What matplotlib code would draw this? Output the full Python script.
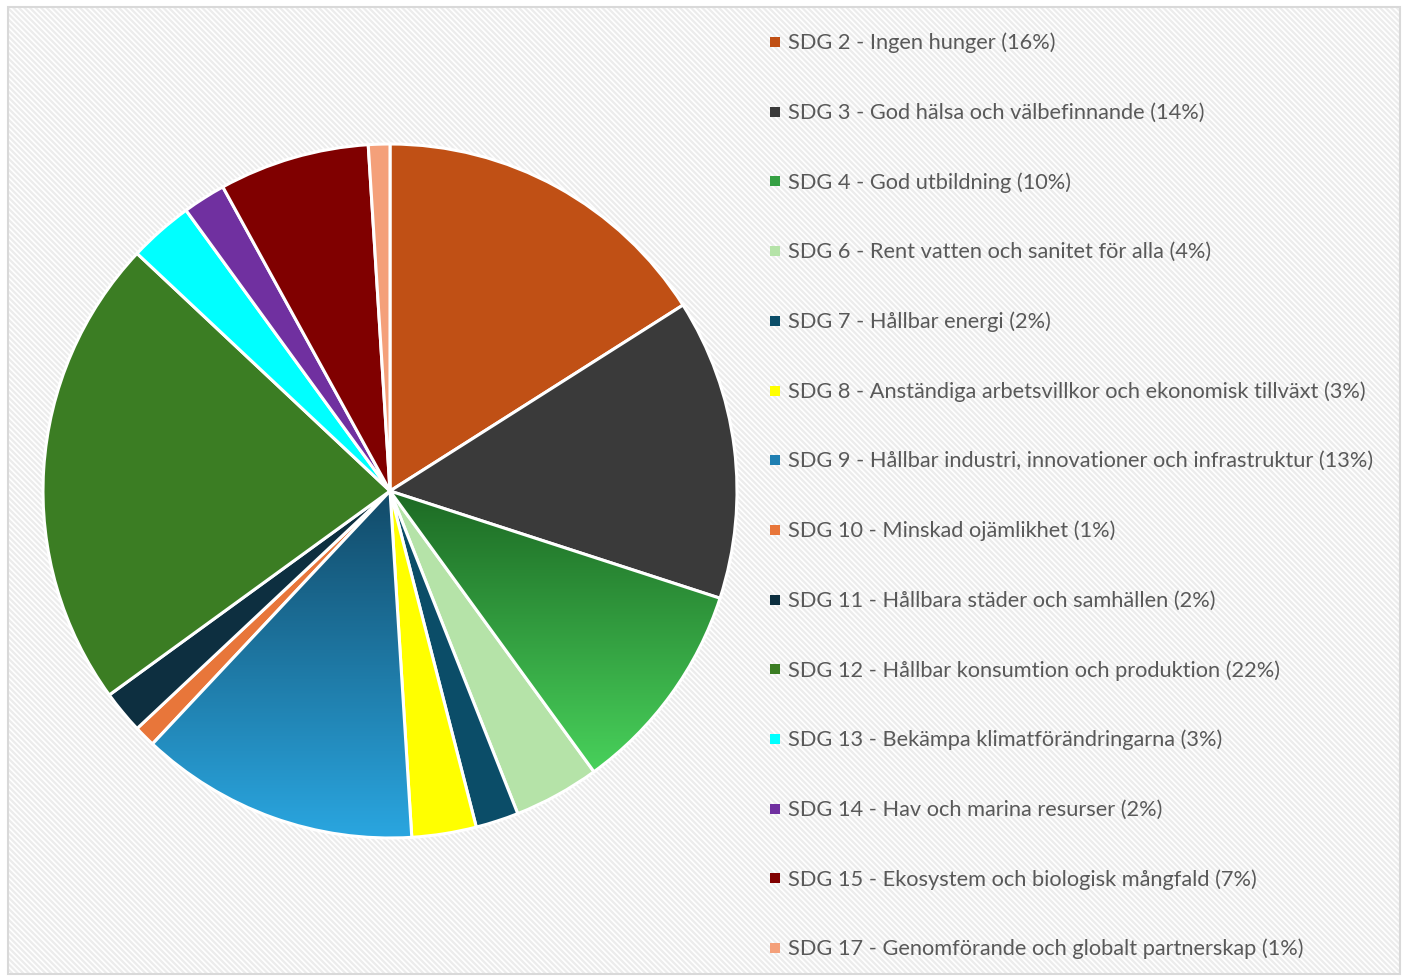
import numpy as np
import matplotlib.pyplot as plt
from matplotlib.patches import Rectangle
from matplotlib.colors import LinearSegmentedColormap

labels = [
    "SDG 2 - Ingen hunger",
    "SDG 3 - God hälsa och välbefinnande",
    "SDG 4 - God utbildning",
    "SDG 6 - Rent vatten och sanitet för alla",
    "SDG 7 - Hållbar energi",
    "SDG 8 - Anständiga arbetsvillkor och ekonomisk tillväxt",
    "SDG 9 - Hållbar industri, innovationer och infrastruktur",
    "SDG 10 - Minskad ojämlikhet",
    "SDG 11 - Hållbara städer och samhällen",
    "SDG 12 - Hållbar konsumtion och produktion",
    "SDG 13 - Bekämpa klimatförändringarna",
    "SDG 14 - Hav och marina resurser",
    "SDG 15 - Ekosystem och biologisk mångfald",
    "SDG 17 - Genomförande och globalt partnerskap",
]
shares = [16, 14, 10, 4, 2, 3, 13, 1, 2, 22, 3, 2, 7, 1]
colors = ["#c05015", "#3a3a3a", "#35a043", "#b5e3a8", "#0b4d68", "#ffff00",
          "#1f7fb2", "#e8763a", "#0d2f40", "#3b7d23", "#00ffff", "#7030a0",
          "#800000", "#f4a07a"]
# slices with a top-to-bottom gradient fill
gradients = {2: ("#1d6a24", "#48d15b"), 6: ("#124a68", "#2aa6e0")}

W, H = 1404, 978
fig = plt.figure(figsize=(W / 100, H / 100), dpi=100)
fig.patch.set_facecolor("white")

# striped background + thin border
bax = fig.add_axes([0, 0, 1, 1], zorder=-10)
bax.set_xlim(0, W)
bax.set_ylim(H, 0)
bax.axis("off")
plt.rcParams["hatch.linewidth"] = 1.6
bax.add_patch(Rectangle((8, 8), W - 12, H - 11, facecolor="white",
                        edgecolor="#ececec", linewidth=0, hatch="\\\\\\\\\\\\"))
bax.add_patch(Rectangle((8, 8), W - 12, H - 11, facecolor="none",
                        edgecolor="#d9d9d9", linewidth=1.5))

cx, cy, r = 390, 492, 347
ax = fig.add_axes([(cx - r) / W, (H - cy - r) / H, 2 * r / W, 2 * r / H])
ax.set_facecolor("none")
wedges, _ = ax.pie(shares, colors=colors, startangle=90, counterclock=False,
                   wedgeprops=dict(edgecolor="white", linewidth=2.2))

for i, (c0, c1) in gradients.items():
    w = wedges[i]
    th = np.radians(np.linspace(w.theta1, w.theta2, 50))
    xs = np.concatenate([[0], np.cos(th)])
    ys = np.concatenate([[0], np.sin(th)])
    cmap = LinearSegmentedColormap.from_list("g%d" % i, [c1, c0])
    grad = np.linspace(0, 1, 256).reshape(-1, 1)
    im = ax.imshow(grad, cmap=cmap, origin="lower", aspect="auto",
                   extent=[xs.min(), xs.max(), ys.min(), ys.max()], zorder=w.get_zorder())
    im.set_clip_path(w)
    w.set_facecolor("none")
    w.set_zorder(w.get_zorder() + 0.5)
ax.set_xlim(-1, 1)
ax.set_ylim(-1, 1)
ax.set_aspect("equal")
ax.axis("off")

# legend
lax = fig.add_axes([0, 0, 1, 1])
lax.set_xlim(0, W)
lax.set_ylim(H, 0)
lax.axis("off")
lax.set_facecolor("none")
y0, dy = 43, 69.7
for i, (lab, val, col) in enumerate(zip(labels, shares, colors)):
    y = y0 + i * dy
    lax.scatter([775], [y], marker="s", s=60, color=col, linewidths=0)
    lax.text(788, y, "%s (%d%%)" % (lab, val), fontsize=15.7, color="#595959",
             family="Lato", va="center", ha="left")

fig.savefig("out.png", dpi=100)
